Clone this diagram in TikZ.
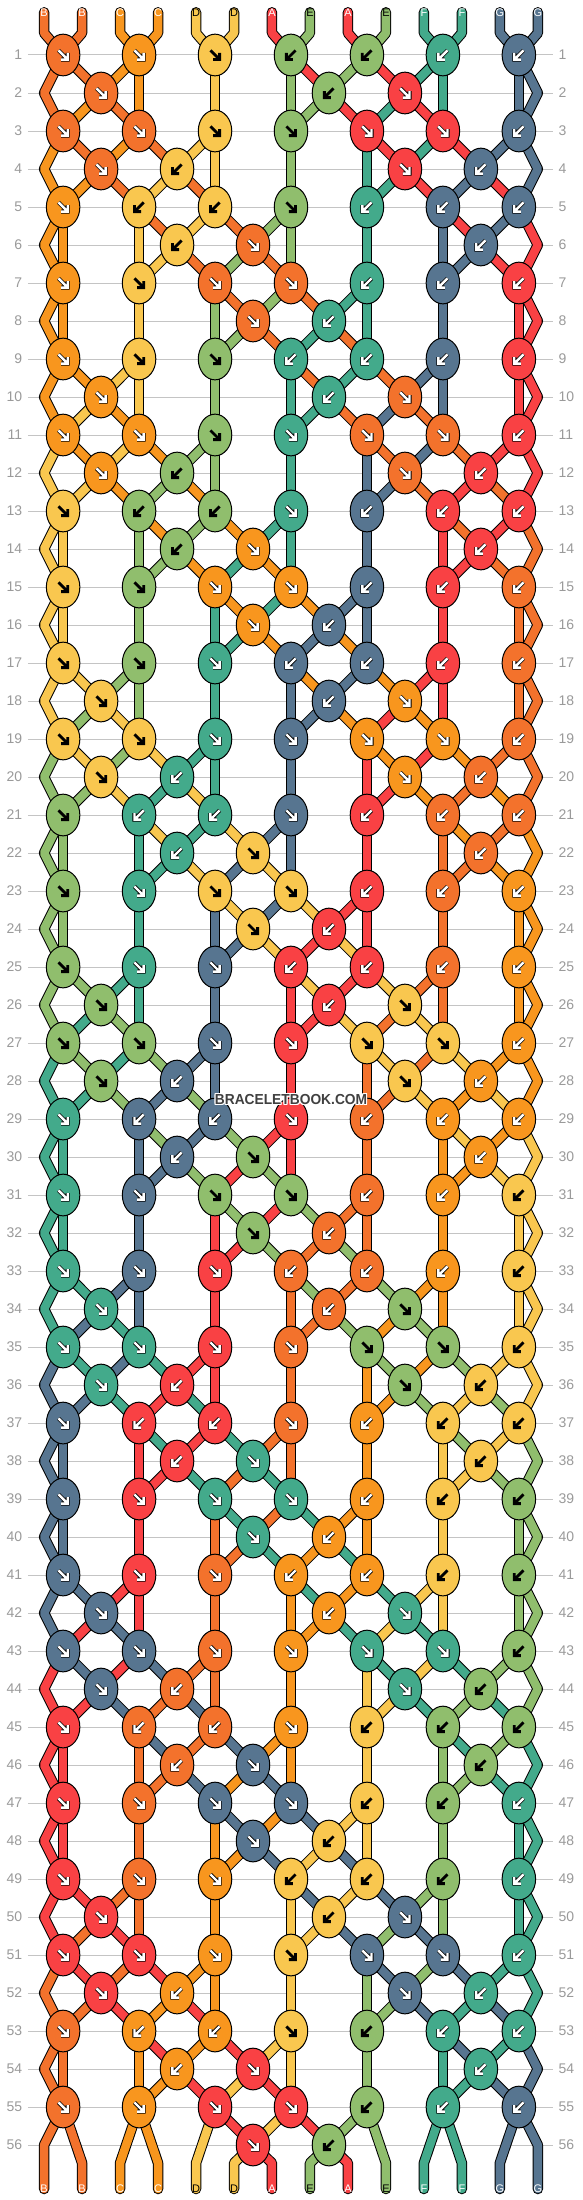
\documentclass[tikz,border=0pt]{standalone}
\usepackage{fontspec}
\setmainfont{Liberation Sans}
\usepackage{graphicx}
\usetikzlibrary{shapes.geometric}
\definecolor{cA}{HTML}{F94144}
\definecolor{cB}{HTML}{F3722C}
\definecolor{cC}{HTML}{F8961E}
\definecolor{cD}{HTML}{F9C74F}
\definecolor{cE}{HTML}{90BE6D}
\definecolor{cF}{HTML}{43AA8B}
\definecolor{cG}{HTML}{577590}
\definecolor{numgray}{HTML}{9A9A9A}
\definecolor{linegray}{HTML}{C4C4C4}
\definecolor{wmgray}{HTML}{404040}
\def\arrA{W}\def\arrB{W}\def\arrC{W}\def\arrD{K}\def\arrE{K}\def\arrF{W}\def\arrG{W}
\def\txtA{white}\def\txtB{white}\def\txtC{white}\def\txtD{black}\def\txtE{black}\def\txtF{white}\def\txtG{white}
% knot types per row (row mod 8): R = forward, L = backward, 0 = no knot
\def\setodd#1#2#3#4#5#6#7#8{%
  \expandafter\def\csname pt@#1@1\endcsname{#2}%
  \expandafter\def\csname pt@#1@3\endcsname{#3}%
  \expandafter\def\csname pt@#1@5\endcsname{#4}%
  \expandafter\def\csname pt@#1@7\endcsname{#5}%
  \expandafter\def\csname pt@#1@9\endcsname{#6}%
  \expandafter\def\csname pt@#1@11\endcsname{#7}%
  \expandafter\def\csname pt@#1@13\endcsname{#8}}
\def\seteven#1#2#3#4#5#6#7{%
  \expandafter\def\csname pt@#1@2\endcsname{#2}%
  \expandafter\def\csname pt@#1@4\endcsname{#3}%
  \expandafter\def\csname pt@#1@6\endcsname{#4}%
  \expandafter\def\csname pt@#1@8\endcsname{#5}%
  \expandafter\def\csname pt@#1@10\endcsname{#6}%
  \expandafter\def\csname pt@#1@12\endcsname{#7}}
\setodd{1}RRRLLLL
\setodd{3}RRRRRRL
\setodd{5}RLLRLLL
\setodd{7}RRRRLLL
\seteven{2}R00LR0
\seteven{4}RL00RL
\seteven{6}0LR00L
\seteven{0}00RL00
\newif\ifknotpass
\tikzset{
  knot/.style={ellipse, draw=black, line width=1pt, fill=#1, minimum width=33.5pt, minimum height=41.7pt, inner sep=0pt},
  strout/.style={draw=black, line width=10.5pt, line cap=round, line join=round},
  strin/.style={draw=#1, line width=8.5pt, line cap=round, line join=round},
  rowline/.style={draw=linegray, line width=1pt},
  rownum/.style={text=numgray, font=\fontsize{14}{14}\selectfont, inner sep=0pt},
  endlabel/.style={font=\fontsize{11}{11}\selectfont, inner sep=0pt},
  arrline/.style={line cap=butt, line join=miter},
  wm/.style={font=\fontsize{14.5}{14.5}\selectfont\bfseries, inner sep=0pt},
}
\newcommand\drawarrow[3]{%
  \begin{scope}[shift={(#1.center)},xscale=#2]
    \if#3W
      \draw[arrline,black,line width=4pt] (-4.6,-4.6) -- (3.6,3.6) (4.6,-2) -- (4.6,4.6) -- (-2,4.6);
      \draw[arrline,white,line width=2.4pt] (-4.6,-4.6) -- (3.6,3.6) (4.6,-2) -- (4.6,4.6) -- (-2,4.6);
    \else
      \draw[arrline,black,line width=2.8pt] (-4.6,-4.6) -- (3.6,3.6) (4.6,-2) -- (4.6,4.6) -- (-2,4.6);
    \fi
  \end{scope}}
\newcommand\drawsegpath[1]{\draw[strout] #1; \draw[strin=\segcol] #1;}
\newcommand\drawseg[3]{%
  \edef\segfrom{\csname last@#1\endcsname}%
  \edef\segvia{\csname via@#1\endcsname}%
  \ifx\segvia\empty
    \edef\segpath{(\segfrom.center) -- (#3.center)}%
  \else
    \edef\segpath{(\segfrom.center) -- (\segvia) -- (#3.center)}%
  \fi
  \edef\segcol{c#2}%
  \expandafter\drawsegpath\expandafter{\segpath}}
\newcommand\drawend[2]{%
  \edef\segfrom{\csname last@#1\endcsname}%
  \edef\segvia{\csname via@#1\endcsname}%
  \ifx\segvia\empty
    \edef\segpath{(\segfrom.center) -- (bb-#1) -- (b-#1)}%
  \else
    \edef\segpath{(\segfrom.center) -- (\segvia) -- (bb-#1) -- (b-#1)}%
  \fi
  \edef\segcol{c#2}%
  \expandafter\drawsegpath\expandafter{\segpath}}
\newcommand\doknot{%
  \edef\kt{\csname pt@\rmod @\kn\endcsname}%
  \if\kt 0\else
    \pgfmathtruncatemacro\kq{\kn+1}%
    \edef\colL{\csname col@\kn\endcsname}%
    \edef\colR{\csname col@\kq\endcsname}%
    \if\kt R\edef\kc{\colL}\def\kdir{1}\else\edef\kc{\colR}\def\kdir{-1}\fi
    \edef\kfill{c\kc}%
    \pgfmathsetmacro\xx{63.1+37.98*(\kn-1)}%
    \ifknotpass
      \node[knot=\kfill] (k-\rw-\kn) at (\xx,\yy) {};
      \drawarrow{k-\rw-\kn}{\kdir}{\csname arr\kc\endcsname}%
    \else
      \coordinate (k-\rw-\kn) at (\xx,\yy);
      \drawseg{\kn}{\colL}{k-\rw-\kn}%
      \drawseg{\kq}{\colR}{k-\rw-\kn}%
    \fi
    \expandafter\xdef\csname col@\kn\endcsname{\colR}%
    \expandafter\xdef\csname col@\kq\endcsname{\colL}%
    \expandafter\xdef\csname last@\kn\endcsname{k-\rw-\kn}%
    \expandafter\xdef\csname last@\kq\endcsname{k-\rw-\kn}%
    \expandafter\xdef\csname via@\kn\endcsname{}%
    \expandafter\xdef\csname via@\kq\endcsname{}%
  \fi}
\newcommand\initstate{%
  \foreach \si/\cn in {1/B,2/B,3/C,4/C,5/D,6/D,7/A,8/E,9/A,10/E,11/F,12/F,13/G,14/G}{%
    \expandafter\xdef\csname col@\si\endcsname{\cn}%
    \expandafter\xdef\csname last@\si\endcsname{t-\si}%
    \expandafter\xdef\csname via@\si\endcsname{tb-\si}%
  }}
\newcommand\runpass{%
  \foreach \rw in {1,...,56}{%
    \pgfmathtruncatemacro\rmod{mod(\rw,8)}%
    \pgfmathsetmacro\yy{55+38*(\rw-1)}%
    \ifodd\rw
      \foreach \kn in {1,3,...,13}{\doknot}%
    \else
      \foreach \kn in {2,4,...,12}{\doknot}%
      \coordinate (e-\rw-1) at (44.1,\yy);
      \coordinate (e-\rw-14) at (537.8,\yy);
      \expandafter\xdef\csname via@1\endcsname{e-\rw-1}%
      \expandafter\xdef\csname via@14\endcsname{e-\rw-14}%
    \fi
  }}
\begin{document}
\begin{tikzpicture}[x=1pt,y=-1pt]
\path[use as bounding box] (0,0) rectangle (582,2200);
\fill[white] (0,0) rectangle (582,2200);
% row guides
\foreach \rw in {1,...,56}{%
  \pgfmathsetmacro\yy{55+38*(\rw-1)}%
  \node[rownum,anchor=east] (nl-\rw) at (22.3,\yy) {\rw};
  \node[rownum,anchor=west] (nr-\rw) at (558.4,\yy) {\rw};
  \draw[rowline] ([xshift=5.5pt]nl-\rw.east) -- ([xshift=-5pt]nr-\rw.west);
}
% string end points
\foreach \si in {1,...,14}{%
  \pgfmathsetmacro\xx{44.1+37.98*(\si-1)}%
  \coordinate (t-\si) at (\xx,12.3);
  \coordinate (tb-\si) at (\xx,33);
  \coordinate (bb-\si) at (\xx,2163);
  \coordinate (b-\si) at (\xx,2189);
}
% pass 1: strings
\knotpassfalse
\initstate
\runpass
\foreach \si in {1,...,14}{%
  \edef\cn{\csname col@\si\endcsname}%
  \drawend{\si}{\cn}%
  \edef\tc{\csname txt\cn\endcsname}%
  \node[endlabel,text=\tc] (lb-\si) at (b-\si) {\cn};
}
% pass 2: knots
\knotpasstrue
\initstate
\runpass
% top labels
\foreach \si/\cn in {1/B,2/B,3/C,4/C,5/D,6/D,7/A,8/E,9/A,10/E,11/F,12/F,13/G,14/G}{%
  \edef\tc{\csname txt\cn\endcsname}%
  \node[endlabel,text=\tc] (lt-\si) at (t-\si) {\cn};
}
% watermark
\foreach \dx/\dy [count=\h] in {-1/-1,-1/0,-1/1,0/-1,0/1,1/-1,1/0,1/1}{%
  \node[wm,text=white] (wmh\h) at (291+\dx,1099+\dy) {\scalebox{0.95}[1]{BRACELETBOOK.COM}};
}
\node[wm,text=wmgray] (wm) at (291,1099) {\scalebox{0.95}[1]{BRACELETBOOK.COM}};
\end{tikzpicture}
\end{document}
